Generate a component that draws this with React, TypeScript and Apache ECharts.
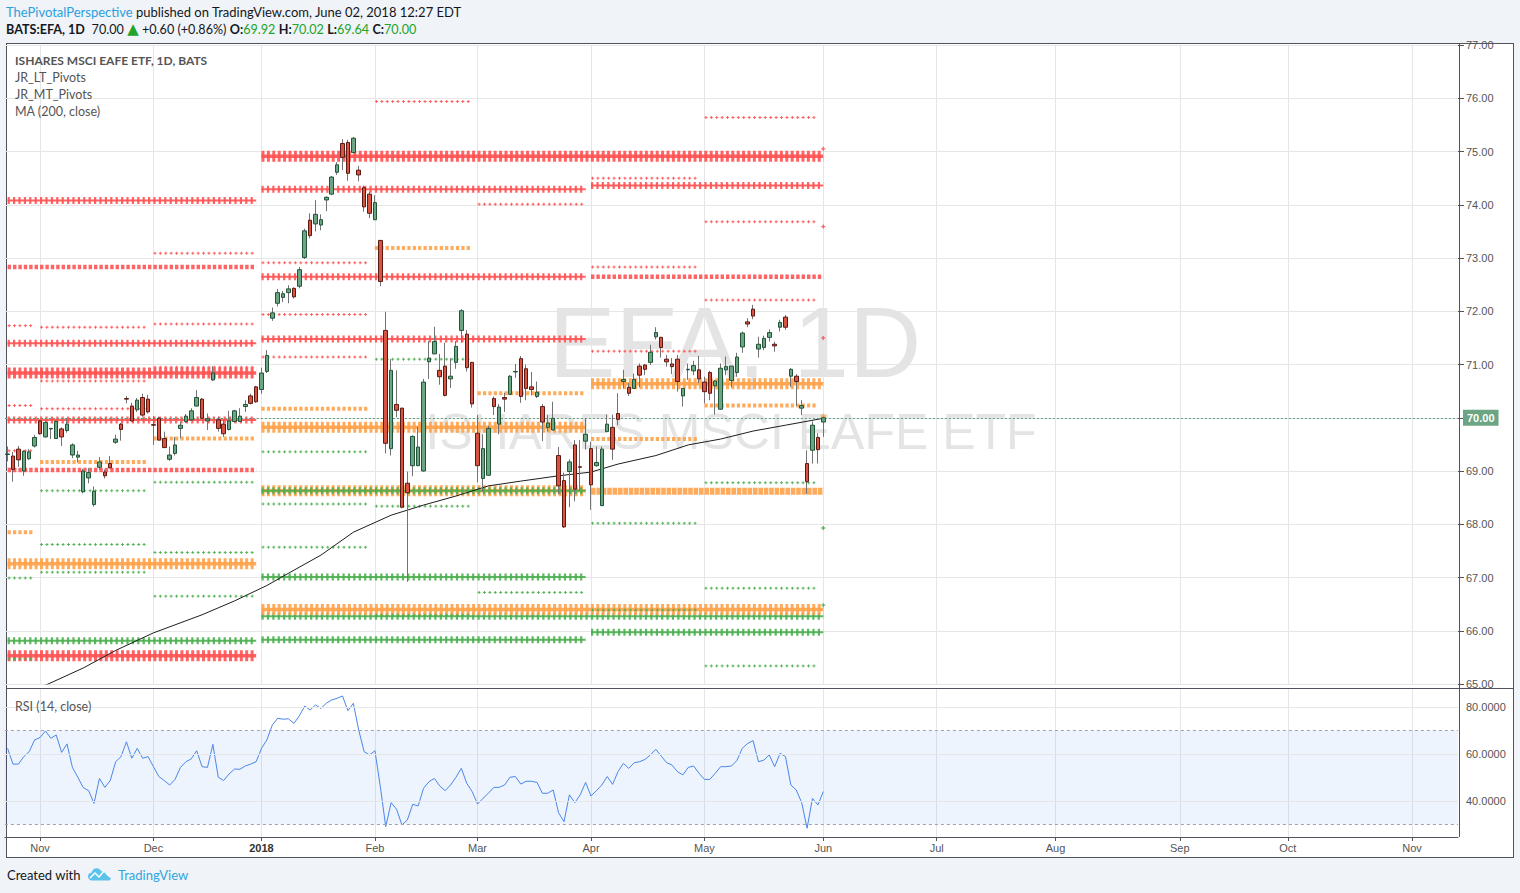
import React, { useEffect, useRef } from 'react';
import * as echarts from 'echarts';

// ---------------- calendar ----------------
const HOLIDAYS = ['2017-11-23', '2017-12-25', '2018-01-01', '2018-01-15', '2018-02-19', '2018-03-30', '2018-05-28'];
const CATEGORY_COUNT = 269;
const MONTH_NAMES = ['Jan', 'Feb', 'Mar', 'Apr', 'May', 'Jun', 'Jul', 'Aug', 'Sep', 'Oct', 'Nov', 'Dec'];

function buildDates(): string[] {
  const out: string[] = [];
  let t = Date.UTC(2017, 9, 24);
  while (out.length < CATEGORY_COUNT) {
    const d = new Date(t);
    const dow = d.getUTCDay();
    const s = d.toISOString().slice(0, 10);
    if (dow !== 0 && dow !== 6 && !HOLIDAYS.includes(s)) out.push(s);
    t += 86400000;
  }
  return out;
}

// ---------------- price data (BATS:EFA daily) ----------------
const opens = [
  69.31, 69.28, 69.41, 69.0, 69.23, 69.47, 69.94, 69.64, 69.79, 69.61,
  69.79, 69.76, 69.3, 69.26, 68.61, 68.87, 68.37, 69.07, 68.98, 69.14,
  69.54, 69.88, 70.36, 70.22, 70.15, 70.38, 70.35, 69.87, 69.99, 69.61,
  69.22, 69.33, 69.8, 69.93, 69.96, 70.22, 70.35, 69.94, 70.71, 69.96,
  69.88, 69.78, 69.93, 69.93, 70.21, 70.41, 70.58, 70.53, 70.87, 71.87,
  72.15, 72.26, 72.35, 72.43, 72.47, 73.01, 73.71, 73.64, 73.62, 74.09,
  74.2, 74.61, 75.15, 75.17, 74.98, 74.65, 74.32, 74.2, 73.72, 73.33,
  71.64, 69.42, 70.25, 70.18, 68.77, 69.1, 69.1, 69.0, 71.05, 71.2,
  70.89, 70.97, 70.73, 71.04, 71.64, 71.57, 71.04, 69.71, 68.86, 68.92,
  70.36, 69.88, 70.38, 70.44, 70.86, 71.11, 70.92, 70.58, 70.4, 70.21,
  69.82, 69.77, 69.29, 68.82, 68.99, 69.49, 69.08, 69.56, 69.42, 69.1,
  68.35, 69.74, 69.82, 70.08, 70.68, 70.57, 70.55, 70.97, 70.99, 71.04,
  71.52, 71.51, 71.1, 71.01, 71.1, 70.41, 70.9, 70.88, 70.9, 70.67,
  70.85, 70.6, 70.16, 70.9, 70.7, 70.85, 71.33, 71.8, 72.04, 71.29,
  71.32, 71.51, 71.38, 71.7, 71.89, 70.78, 70.78, 70.18, 69.14, 69.39,
  69.63, 69.92,
];
const highs = [
  69.46, 69.36, 69.47, 69.39, 69.41, 69.68, 69.96, 69.96, 69.8, 69.96,
  69.82, 69.99, 69.52, 69.38, 69.04, 69.05, 68.71, 69.26, 69.03, 69.28,
  69.68, 69.9, 70.41, 70.28, 70.37, 70.45, 70.43, 70.03, 70.02, 69.74,
  69.46, 69.64, 69.93, 70.07, 70.18, 70.52, 70.37, 70.08, 70.97, 70.02,
  69.96, 70.13, 70.15, 70.18, 70.33, 70.45, 70.6, 70.94, 71.27, 72.07,
  72.42, 72.38, 72.49, 72.45, 72.83, 73.55, 73.84, 74.09, 73.82, 74.16,
  74.54, 74.8, 75.23, 75.22, 75.27, 74.73, 74.36, 74.25, 74.18, 73.34,
  71.99, 71.1, 70.89, 70.19, 68.99, 69.67, 69.83, 70.73, 71.44, 71.71,
  71.2, 71.41, 71.12, 71.44, 72.04, 71.65, 71.05, 70.05, 69.69, 69.85,
  70.4, 70.26, 70.47, 70.8, 71.01, 71.16, 71.0, 70.86, 70.68, 70.26,
  70.05, 70.3, 69.45, 68.97, 69.22, 69.58, 69.58, 69.99, 69.55, 69.46,
  69.46, 70.06, 70.06, 70.46, 70.9, 70.65, 70.83, 71.02, 71.01, 71.37,
  71.7, 71.52, 71.18, 71.12, 71.18, 70.55, 71.02, 71.07, 71.16, 70.77,
  70.88, 70.71, 71.02, 71.15, 70.97, 71.22, 71.62, 71.87, 72.12, 71.52,
  71.54, 71.66, 71.43, 71.84, 71.93, 70.93, 70.82, 70.33, 69.39, 69.93,
  69.71, 70.02,
];
const lows = [
  69.18, 68.8, 69.08, 68.91, 69.21, 69.44, 69.68, 69.63, 69.6, 69.6,
  69.47, 69.72, 69.24, 69.16, 68.58, 68.77, 68.33, 69.02, 68.86, 69.05,
  69.51, 69.57, 70.27, 69.93, 70.11, 70.02, 70.08, 69.49, 69.58, 69.43,
  69.19, 69.29, 69.61, 69.9, 69.95, 70.21, 69.98, 69.77, 70.69, 69.74,
  69.64, 69.76, 69.91, 69.92, 70.11, 70.25, 70.28, 70.45, 70.84, 71.82,
  72.09, 72.17, 72.15, 72.24, 72.43, 72.98, 73.37, 73.5, 73.52, 73.88,
  74.18, 74.56, 74.65, 74.45, 74.97, 74.44, 73.87, 73.75, 73.71, 72.47,
  69.33, 69.29, 70.01, 68.3, 66.92, 68.9, 69.09, 68.99, 70.73, 71.19,
  70.62, 70.4, 70.56, 70.92, 71.41, 70.87, 70.19, 68.79, 68.61, 68.91,
  70.05, 69.69, 70.11, 70.43, 70.75, 70.28, 70.33, 70.42, 70.37, 69.56,
  69.74, 69.76, 68.57, 67.93, 68.32, 68.43, 68.64, 69.4, 68.27, 69.08,
  68.34, 69.73, 69.21, 69.86, 70.55, 70.41, 70.54, 70.57, 70.8, 70.99,
  71.47, 71.13, 70.96, 70.82, 70.49, 70.21, 70.71, 70.8, 70.65, 70.27,
  70.33, 70.06, 70.16, 70.8, 70.57, 70.77, 71.22, 71.7, 71.85, 71.13,
  71.27, 71.43, 71.24, 71.62, 71.65, 70.58, 70.22, 70.05, 68.57, 69.14,
  69.14, 69.64,
];
const closes = [
  69.32, 69.03, 69.21, 69.37, 69.36, 69.63, 69.7, 69.91, 69.8, 69.93,
  69.64, 69.88, 69.49, 69.3, 69.0, 68.97, 68.62, 69.17, 68.91, 69.06,
  69.6, 69.78, 70.35, 69.94, 70.33, 70.05, 70.11, 69.86, 69.58, 69.44,
  69.3, 69.49, 69.86, 70.03, 70.13, 70.38, 69.99, 69.98, 70.84, 69.8,
  69.7, 69.94, 70.13, 70.03, 70.25, 70.27, 70.3, 70.84, 71.17, 71.97,
  72.35, 72.33, 72.42, 72.27, 72.78, 73.51, 73.42, 73.82, 73.72, 74.14,
  74.52, 74.75, 74.89, 74.59, 75.25, 74.56, 73.96, 73.84, 74.04, 72.56,
  69.52, 70.89, 70.14, 68.32, 68.59, 69.65, 69.45, 70.67, 71.12, 71.43,
  70.77, 70.42, 70.78, 71.34, 72.01, 70.94, 70.26, 69.1, 69.42, 69.8,
  70.21, 70.2, 70.35, 70.78, 70.87, 70.4, 70.55, 70.53, 70.48, 69.92,
  69.9, 69.99, 68.72, 67.95, 69.17, 68.66, 69.07, 69.69, 68.74, 69.16,
  69.41, 69.88, 69.41, 69.97, 70.72, 70.46, 70.72, 70.8, 70.91, 71.23,
  71.6, 71.32, 71.05, 70.96, 70.68, 70.55, 70.91, 70.98, 70.73, 70.49,
  70.46, 70.69, 70.93, 70.96, 70.97, 71.14, 71.59, 71.76, 71.91, 71.38,
  71.49, 71.6, 71.35, 71.79, 71.7, 70.91, 70.68, 70.23, 68.8, 69.86,
  69.4, 70.0,
];

// RSI(14, close)
const rsiValues = [
  62.4, 55.7, 55.7, 58.9, 61.0, 66.0, 67.0, 69.8, 66.7, 68.1,
  60.7, 64.3, 54.3, 50.1, 45.7, 44.4, 39.0, 49.6, 45.8, 48.7,
  56.7, 58.9, 65.2, 58.2, 62.4, 58.2, 58.9, 54.6, 50.4, 48.7,
  46.8, 49.2, 54.3, 56.7, 57.9, 61.4, 54.6, 54.3, 64.1, 50.1,
  48.7, 51.5, 53.6, 53.5, 54.9, 55.7, 56.7, 62.4, 66.0, 72.3,
  75.2, 74.8, 75.0, 73.0, 76.2, 80.4, 78.7, 80.9, 79.4, 81.6,
  83.0, 83.7, 84.7, 78.4, 81.6, 70.2, 61.0, 59.6, 61.4, 46.1,
  29.1, 39.3, 36.5, 29.8, 31.9, 38.6, 37.9, 45.4, 48.2, 49.6,
  46.4, 44.4, 46.8, 50.1, 53.9, 47.5, 44.0, 38.7, 41.1, 43.3,
  45.8, 45.8, 46.8, 50.1, 50.4, 47.2, 48.4, 48.4, 47.9, 43.3,
  43.3, 44.7, 35.0, 31.2, 42.6, 39.3, 42.6, 47.9, 42.1, 44.4,
  46.8, 50.4, 47.1, 52.5, 56.0, 53.9, 56.3, 56.7, 57.7, 59.6,
  62.0, 59.1, 56.3, 55.3, 52.5, 51.1, 54.3, 54.9, 51.8, 49.2,
  49.2, 51.8, 54.6, 54.6, 54.9, 57.2, 62.4, 64.5, 65.7, 56.7,
  57.4, 59.6, 54.6, 60.3, 58.9, 46.8, 44.7, 39.3, 28.4, 41.1,
  38.3, 44.0,
];

// MA(200, close) read at these bar indices
const maBarIndex = [6, 14, 20, 27, 36, 42, 48, 52, 58, 64, 71, 77, 83, 89, 95, 102, 108, 113, 120, 126, 132, 138, 144, 151];
const maValues = [64.93, 65.3, 65.63, 65.96, 66.3, 66.56, 66.85, 67.08, 67.42, 67.85, 68.17, 68.36, 68.53, 68.72, 68.81, 68.91, 68.98, 69.13, 69.29, 69.49, 69.6, 69.75, 69.86, 69.99];

// ---------------- JR_LT_Pivots, [price, role] ----------------
// 2018 levels (Jan through Jun)
const lt2018Heavy = [[74.91, 'R'], [66.4, 'P']];
const lt2018Cross = [[66.27, 'S']];
// quarterly levels
const ltQ4Heavy = [[70.84, 'R'], [67.26, 'P'], [65.53, 'R']];
const ltQ4Cross = [[74.08, 'R'], [71.4, 'R'], [69.96, 'R'], [65.81, 'S']];
const ltQ4Dots = [[72.83, 'R'], [69.02, 'R']];
const ltQ1Heavy = [[69.82, 'P'], [68.63, 'P']];
const ltQ1Cross = [[74.29, 'R'], [72.65, 'R'], [71.48, 'R'], [68.63, 'S'], [67.01, 'S'], [65.83, 'S']];
const ltQ2Heavy = [[70.64, 'P']];
const ltQ2Cross = [[74.36, 'R'], [65.97, 'S']];
const ltQ2Dots = [[72.65, 'R']];
const ltQ2BigDots = [[68.62, 'P']];

// ---------------- JR_MT_Pivots (monthly), [price, role] ----------------
const mtOct = [[71.73, 'R'], [70.23, 'R'], [69.38, 'R'], [67.85, 'P'], [66.99, 'S'], [65.47, 'S']];
const mtNov = [[71.7, 'R'], [70.69, 'R'], [70.17, 'R'], [69.17, 'P'], [68.63, 'S'], [67.62, 'S'], [67.1, 'S']];
const mtDec = [[73.09, 'R'], [71.76, 'R'], [70.95, 'R'], [69.61, 'P'], [68.79, 'S'], [67.47, 'S'], [66.65, 'S']];
const mtJan = [[72.91, 'R'], [71.94, 'R'], [71.14, 'R'], [70.17, 'P'], [69.36, 'S'], [68.38, 'S'], [67.57, 'S']];
const mtFeb = [[75.94, 'R'], [73.19, 'P'], [71.1, 'S'], [68.34, 'S'], [66.29, 'S']];
const mtMar = [[74.01, 'R'], [70.46, 'P'], [66.72, 'S']];
const mtApr = [[74.5, 'R'], [72.83, 'R'], [71.25, 'R'], [69.6, 'P'], [68.02, 'S'], [66.39, 'S']];
const mtMay = [[75.64, 'R'], [73.68, 'R'], [72.21, 'R'], [70.23, 'P'], [68.78, 'S'], [66.8, 'S'], [65.34, 'S']];
const mtJun = [[75.05, 'R'], [73.59, 'R'], [71.5, 'R'], [70.03, 'P'], [67.93, 'S'], [66.48, 'S']];

const ROLE_COLOR: Record<string, string> = { R: '#ff5252', P: '#ffa24a', S: '#4caf50' };
const TIER_STYLES: Record<string, any[]> = {
  heavy: [{ width: 3.5, type: 'solid' }, { width: 11, type: [3, 2.4] }],
  cross: [{ width: 2, type: 'solid' }, { width: 7, type: [2.2, 3.2] }],
  dots: [{ width: 4.5, type: [3.4, 2.0] }],
  bigdots: [{ width: 7, type: [4.6, 0.8] }],
  mdots: [{ width: 4, type: [3.2, 2.2] }],
  thin: [{ width: 1, type: [3, 2.4] }, { width: 3, type: [1, 4.4], dashOffset: -1 }],
};

const LOGO_PATH =
  'M5 15C2 15 0 13 0 10.5C0 8 2 6.5 4 6.5C4.6 3.5 7 1.5 10 1.5C12.5 1.5 14.5 3 15.3 5C16 4.6 16.8 4.4 17.6 4.4C20.5 4.4 22.6 6.6 22.6 9.2C24.6 9.7 26 11.3 26 13C26 14.2 25 15 24 15Z';

export default function App() {
  const ref = useRef<HTMLDivElement>(null);

  useEffect(() => {
    if (!ref.current) return;
    try {
      echarts.graphic.registerShape('tvlogo', echarts.graphic.extendPath(LOGO_PATH, {}));
    } catch (e) {}
    const chart = echarts.init(ref.current, null, { renderer: 'svg' });

    const dates = buildDates();
    const traded = dates.slice(0, closes.length);
    const monthRange = (ym: string) => {
      const ds = traded.filter((d) => d.startsWith(ym));
      return [ds[0], ds[ds.length - 1]];
    };
    const monthStarts = new Set<number>();
    dates.forEach((d, i) => {
      if (i > 0 && d.slice(0, 7) !== dates[i - 1].slice(0, 7)) monthStarts.add(i);
    });
    const isMonthStart = (index: number) => monthStarts.has(index);

    const q4 = [monthRange('2017-10')[0], monthRange('2017-12')[1]];
    const q1 = [monthRange('2018-01')[0], monthRange('2018-03')[1]];
    const q2 = [monthRange('2018-04')[0], monthRange('2018-06')[1]];
    const y2018 = [q1[0], q2[1]];

    const levelSeries = (range: string[], levels: any[], tier: string, z: number) => {
      const out: any[] = [];
      levels.forEach(([v, role]) => {
        if (range[0] === range[1]) {
          out.push({
            type: 'scatter', xAxisIndex: 0, yAxisIndex: 0, silent: true, z,
            symbol: 'path://M2,0H4V2H6V4H4V6H2V4H0V2H2Z', symbolSize: role === 'P' ? 5 : 4,
            itemStyle: { color: ROLE_COLOR[role], opacity: 0.9 },
            data: [[range[0], v]],
          });
          return;
        }
        TIER_STYLES[tier].forEach((ls) => {
          out.push({
            type: 'line', xAxisIndex: 0, yAxisIndex: 0, silent: true, z,
            symbol: 'none', showSymbol: false,
            data: [[range[0], v], [range[1], v]],
            lineStyle: { color: ROLE_COLOR[role], width: ls.width, type: ls.type, dashOffset: ls.dashOffset || 0, opacity: 0.9 },
          });
        });
      });
      return out;
    };

    const mtSeries = (ym: string, levels: any[]) => {
      const r = monthRange(ym);
      return [
        ...levelSeries(r, levels.filter((l) => l[1] !== 'P'), 'thin', 2),
        ...levelSeries(r, levels.filter((l) => l[1] === 'P'), 'mdots', 2),
      ];
    };

    const pivotSeries = [
      ...levelSeries(q4, ltQ4Cross, 'cross', 2),
      ...levelSeries(q4, ltQ4Dots, 'dots', 2),
      ...levelSeries(q4, ltQ4Heavy, 'heavy', 2),
      ...levelSeries(y2018, lt2018Cross, 'cross', 2),
      ...levelSeries(y2018, lt2018Heavy, 'heavy', 2),
      ...levelSeries(q1, ltQ1Heavy, 'heavy', 2),
      ...levelSeries(q1, ltQ1Cross, 'cross', 2),
      ...levelSeries(q2, ltQ2Cross, 'cross', 2),
      ...levelSeries(q2, ltQ2Dots, 'dots', 2),
      ...levelSeries(q2, ltQ2BigDots, 'bigdots', 2),
      ...levelSeries(q2, ltQ2Heavy, 'heavy', 2),
      ...mtSeries('2017-10', mtOct),
      ...mtSeries('2017-11', mtNov),
      ...mtSeries('2017-12', mtDec),
      ...mtSeries('2018-01', mtJan),
      ...mtSeries('2018-02', mtFeb),
      ...mtSeries('2018-03', mtMar),
      ...mtSeries('2018-04', mtApr),
      ...mtSeries('2018-05', mtMay),
      ...mtSeries('2018-06', mtJun),
    ];

    const wickData = opens.map((o, i) => [o, closes[i], lows[i], highs[i]]);
    const bodyData = opens.map((o, i) => [o, closes[i], Math.min(o, closes[i]), Math.max(o, closes[i])]);
    const maData = maBarIndex.map((bi, k) => [dates[bi], maValues[k]]);
    const lastClose = closes[closes.length - 1];

    const gridLineColor = '#e6e6e6';
    const frame = '#50535e';
    const axisText = '#555';

    const rsiGuide = (v: number, label: boolean, dashed: boolean) => ({
      yAxis: v,
      lineStyle: dashed ? { color: '#9ea3ae', type: [3, 3], width: 1 } : { color: gridLineColor, type: 'solid', width: 1 },
      label: label
        ? { show: true, position: 'end', distance: 8, formatter: v.toFixed(4), color: axisText, fontSize: 11, fontFamily: 'Liberation Sans' }
        : { show: false },
    });

    const gridLeft = 4.9;
    const gridWidth = 1453.1;

    const option: any = {
      animation: false,
      backgroundColor: 'transparent',
      textStyle: { fontFamily: 'Liberation Sans' },
      grid: [
        { left: gridLeft, width: gridWidth, top: 45, height: 639 },
        { left: gridLeft, width: gridWidth, top: 689, height: 148 },
      ],
      xAxis: [
        {
          type: 'category', gridIndex: 0, data: dates, boundaryGap: true,
          axisLine: { show: false }, axisTick: { show: false }, axisLabel: { show: false },
          splitLine: { show: true, interval: isMonthStart, alignWithLabel: true, lineStyle: { color: gridLineColor } },
        },
        {
          type: 'category', gridIndex: 1, data: dates, boundaryGap: true,
          axisLine: { show: true, lineStyle: { color: frame } },
          axisTick: { show: true, interval: isMonthStart, alignWithLabel: true, length: 4, lineStyle: { color: axisText } },
          axisLabel: {
            show: true, interval: isMonthStart, margin: 5, fontSize: 11, color: axisText, fontFamily: 'Liberation Sans',
            formatter: (val: string) => {
              const m = parseInt(val.slice(5, 7), 10);
              return m === 1 ? '{y|' + val.slice(0, 4) + '}' : MONTH_NAMES[m - 1];
            },
            rich: { y: { fontWeight: 'bold', color: '#333', fontSize: 11, fontFamily: 'Liberation Sans' } },
          },
          splitLine: { show: true, interval: isMonthStart, alignWithLabel: true, lineStyle: { color: gridLineColor } },
        },
      ],
      yAxis: [
        {
          type: 'value', gridIndex: 0, position: 'right', min: 65, max: 77, interval: 1,
          axisLine: { show: false },
          axisTick: { show: true, length: 6, lineStyle: { color: axisText } },
          axisLabel: { margin: 8, fontSize: 11, color: axisText, fontFamily: 'Liberation Sans', formatter: (v: number) => v.toFixed(2) },
          splitLine: { show: true, lineStyle: { color: gridLineColor } },
        },
        {
          type: 'value', gridIndex: 1, position: 'right', min: 24.68, max: 87.66,
          axisLine: { show: false }, axisTick: { show: false }, axisLabel: { show: false }, splitLine: { show: false },
        },
      ],
      series: [
        ...pivotSeries,
        {
          name: 'MA', type: 'line', xAxisIndex: 0, yAxisIndex: 0, z: 4, silent: true,
          symbol: 'none', data: maData, lineStyle: { color: '#1e1e1e', width: 1 },
        },
        {
          name: 'wicks', type: 'candlestick', xAxisIndex: 0, yAxisIndex: 0, z: 5, silent: true,
          barWidth: 0.5, barMinWidth: 0, data: wickData,
          itemStyle: { color: '#737375', color0: '#737375', borderColor: '#737375', borderColor0: '#737375', borderWidth: 1 },
        },
        {
          name: 'EFA', type: 'candlestick', xAxisIndex: 0, yAxisIndex: 0, z: 6, silent: true,
          barWidth: 4, data: bodyData,
          itemStyle: { color: '#6ba583', color0: '#d75442', borderColor: '#225437', borderColor0: '#5b1a13', borderWidth: 1 },
          markLine: {
            silent: true, symbol: ['none', 'none'],
            lineStyle: { color: '#5b9a7a', type: [2, 2], width: 1 },
            label: {
              show: true, position: 'end', distance: 5, formatter: lastClose.toFixed(2),
              backgroundColor: '#6ba583', color: '#fff', fontWeight: 'bold', fontSize: 11,
              fontFamily: 'Liberation Sans', padding: [3, 4, 2, 4],
            },
            data: [{ yAxis: lastClose }],
          },
        },
        {
          name: 'rsiGuides', type: 'line', xAxisIndex: 1, yAxisIndex: 1, z: 1, silent: true,
          symbol: 'none', data: rsiValues, lineStyle: { opacity: 0 },
          markArea: { silent: true, itemStyle: { color: 'rgba(40,110,230,0.08)' }, data: [[{ yAxis: 70 }, { yAxis: 30 }]] },
          markLine: {
            silent: true, symbol: ['none', 'none'],
            data: [rsiGuide(80, true, false), rsiGuide(60, true, false), rsiGuide(40, true, false), rsiGuide(70, false, true), rsiGuide(30, false, true)],
          },
        },
        {
          name: 'RSI', type: 'line', xAxisIndex: 1, yAxisIndex: 1, z: 3, silent: true,
          symbol: 'none', data: rsiValues, lineStyle: { color: '#4a86e8', width: 1 },
        },
      ],
      graphic: [
        {
          type: 'text', x: 735, y: 342, z: 1, silent: true,
          style: { text: 'EFA, 1D', fontSize: 100, fontFamily: 'Liberation Sans', fill: '#e4e4e4', align: 'center', verticalAlign: 'middle', textAlign: 'center', textVerticalAlign: 'middle' },
        },
        {
          type: 'text', x: 731, y: 432, z: 1, silent: true,
          style: { text: 'ISHARES MSCI EAFE ETF', fontSize: 50, fontFamily: 'Liberation Sans', fill: '#e4e4e4', align: 'center', verticalAlign: 'middle', textAlign: 'center', textVerticalAlign: 'middle' },
        },
        {
          type: 'text', x: 6, y: 12, z: 50, silent: true,
          style: {
            text: '{a|ThePivotalPerspective} {b|published on TradingView.com, June 02, 2018 12:27 EDT}',
            verticalAlign: 'middle', textVerticalAlign: 'middle',
            rich: {
              a: { fill: '#2a9fe0', color: '#2a9fe0', fontSize: 13, fontFamily: 'Lato' },
              b: { fill: '#131722', color: '#131722', fontSize: 13, fontFamily: 'Lato' },
            },
          },
        },
        {
          type: 'text', x: 6, y: 29, z: 50, silent: true,
          style: {
            text: '{k|BATS:EFA, 1D}  {n|70.00} {t|▲} {n|+0.60 (+0.86%)} {k|O:}{g|69.92} {k|H:}{g|70.02} {k|L:}{g|69.64} {k|C:}{g|70.00}',
            verticalAlign: 'middle', textVerticalAlign: 'middle',
            rich: {
              k: { fill: '#131722', color: '#131722', fontSize: 12.6, fontWeight: 'bold', fontFamily: 'Lato' },
              n: { fill: '#131722', color: '#131722', fontSize: 12.6, fontFamily: 'Lato' },
              g: { fill: '#22a32a', color: '#22a32a', fontSize: 12.6, fontFamily: 'Lato' },
              t: { fill: '#22a32a', color: '#22a32a', fontSize: 15, fontFamily: 'DejaVu Sans' },
            },
          },
        },
        {
          type: 'text', x: 15, y: 60, z: 50, silent: true,
          style: { text: 'ISHARES MSCI EAFE ETF, 1D, BATS', fontSize: 12, fontWeight: 'bold', fontFamily: 'Lato', fill: '#555', verticalAlign: 'middle', textVerticalAlign: 'middle' },
        },
        {
          type: 'text', x: 15, y: 77, z: 50, silent: true,
          style: { text: 'JR_LT_Pivots', fontSize: 12.5, fontFamily: 'Lato', fill: '#555', verticalAlign: 'middle', textVerticalAlign: 'middle' },
        },
        {
          type: 'text', x: 15, y: 94, z: 50, silent: true,
          style: { text: 'JR_MT_Pivots', fontSize: 12.5, fontFamily: 'Lato', fill: '#555', verticalAlign: 'middle', textVerticalAlign: 'middle' },
        },
        {
          type: 'text', x: 15, y: 111, z: 50, silent: true,
          style: { text: 'MA (200, close)', fontSize: 12.5, fontFamily: 'Lato', fill: '#555', verticalAlign: 'middle', textVerticalAlign: 'middle' },
        },
        {
          type: 'text', x: 15, y: 706, z: 50, silent: true,
          style: { text: 'RSI (14, close)', fontSize: 12.5, fontFamily: 'Lato', fill: '#555', verticalAlign: 'middle', textVerticalAlign: 'middle' },
        },
        { type: 'line', z: 60, silent: true, shape: { x1: 1459.5, y1: 43, x2: 1459.5, y2: 837 }, style: { stroke: frame, lineWidth: 1 } },
        { type: 'line', z: 60, silent: true, shape: { x1: 6, y1: 688.5, x2: 1513, y2: 688.5 }, style: { stroke: frame, lineWidth: 1 } },
        {
          type: 'text', x: 7, y: 875, z: 50, silent: true,
          style: { text: 'Created with', fontSize: 13, fontFamily: 'Lato', fill: '#131722', verticalAlign: 'middle', textVerticalAlign: 'middle' },
        },
        { type: 'tvlogo', x: 88, y: 867, scaleX: 0.87, scaleY: 0.9, z: 50, silent: true, style: { fill: '#5cc2ec' } },
        {
          type: 'polyline', z: 51, silent: true,
          shape: { points: [[90, 878], [95, 873], [99, 877], [104, 871], [110, 877]] },
          style: { stroke: '#ffffff', lineWidth: 1.5, fill: null },
        },
        {
          type: 'text', x: 118, y: 875, z: 50, silent: true,
          style: { text: 'TradingView', fontSize: 13, fontFamily: 'Lato', fill: '#2ea6e0', verticalAlign: 'middle', textVerticalAlign: 'middle' },
        },
      ],
    };

    chart.setOption(option);
    return () => chart.dispose();
  }, []);

  return (
    <div style={{ position: 'fixed', left: 0, top: 0, width: 1520, height: 893, background: '#f0f3f7', overflow: 'hidden' }}>
      <div
        style={{
          position: 'absolute', left: 6, top: 43, width: 1508, height: 815,
          boxSizing: 'border-box', background: '#ffffff', border: '1px solid #50535e',
        }}
      />
      <div ref={ref} style={{ position: 'absolute', left: 0, top: 0, width: 1520, height: 893 }} />
    </div>
  );
}
